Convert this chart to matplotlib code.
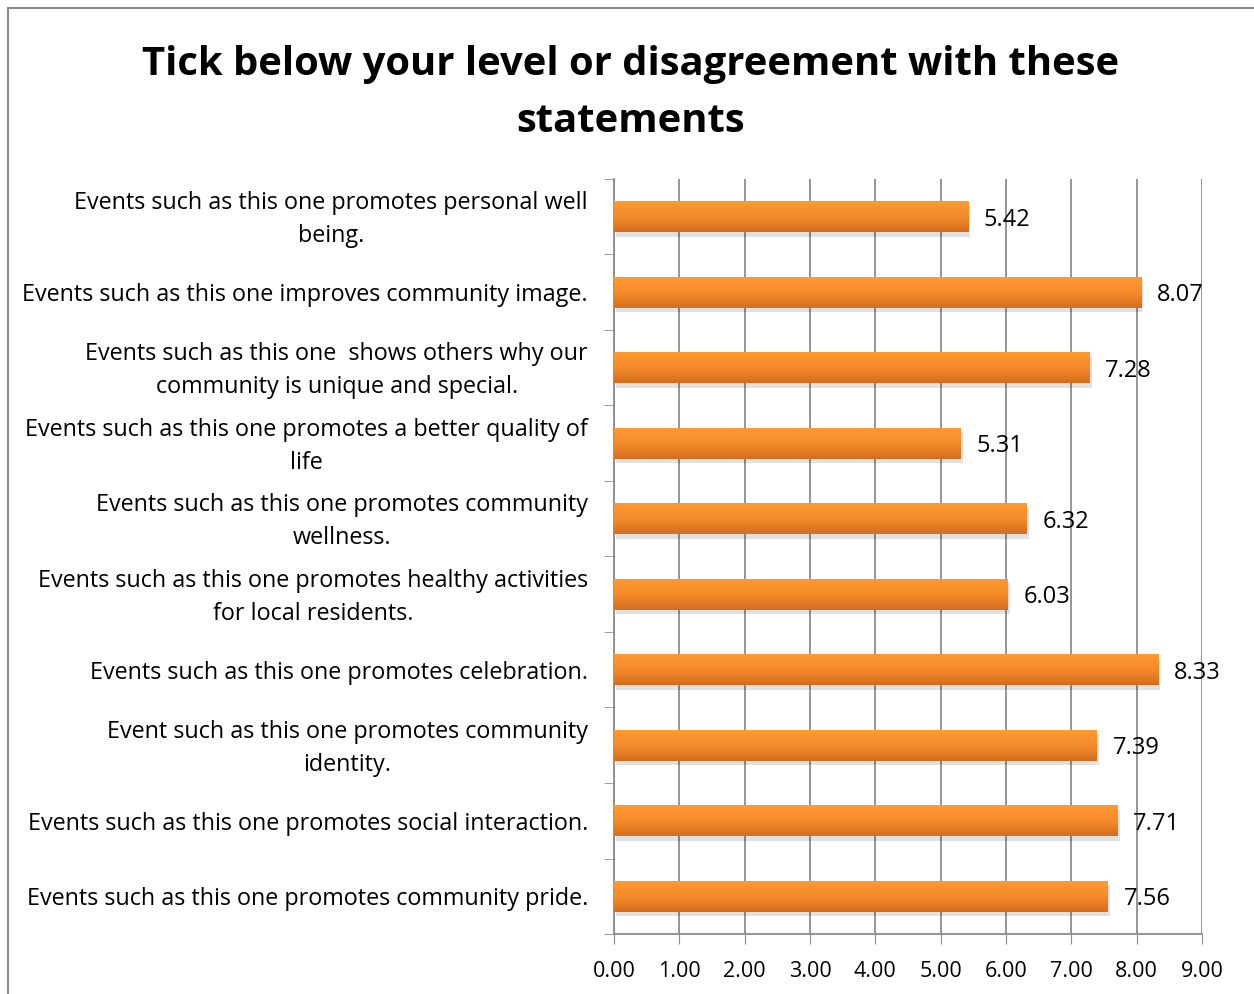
import numpy as np
import matplotlib
matplotlib.use('Agg')
import matplotlib.pyplot as plt
import matplotlib.transforms as mtransforms
from matplotlib.colors import LinearSegmentedColormap
from matplotlib.patches import Rectangle

plt.rcParams['font.family'] = ['Open Sans', 'DejaVu Sans']

# data, top to bottom
labels = [
    'Events such as this one promotes personal well\nbeing.',
    'Events such as this one improves community image.',
    'Events such as this one  shows others why our\ncommunity is unique and special.',
    'Events such as this one promotes a better quality of\nlife',
    'Events such as this one promotes community\nwellness.',
    'Events such as this one promotes healthy activities\nfor local residents.',
    'Events such as this one promotes celebration.',
    'Event such as this one promotes community\nidentity.',
    'Events such as this one promotes social interaction.',
    'Events such as this one promotes community pride.',
]
values = [5.42, 8.07, 7.28, 5.31, 6.32, 6.03, 8.33, 7.39, 7.71, 7.56]
xticks = [0, 1, 2, 3, 4, 5, 6, 7, 8, 9]
title = 'Tick below your level or disagreement with these\nstatements'

fig = plt.figure(figsize=(12.54, 9.95), dpi=100)
ax = fig.add_axes([0.4896, 0.0603, 0.4689, 0.7588])

# outer chart border (cropped on right and bottom)
fig.patches.append(Rectangle((8 / 1254, -0.05), 1.2, 1 - 9 / 995 + 0.05,
                             transform=fig.transFigure, fill=False,
                             edgecolor='#8c8c8c', linewidth=1.5))

grad = LinearSegmentedColormap.from_list('org', ['#ff9a33', '#f58a2a', '#d46e1e'])
g = np.linspace(0, 1, 64).reshape(-1, 1)
h = 0.41
ypos = np.arange(len(values))
down = mtransforms.ScaledTranslation(0, -2 / 100, fig.dpi_scale_trans)
for y, v in zip(ypos, values):
    # shadow
    ax.add_patch(Rectangle((0.03, y - h / 2 + 0.06), v, h, facecolor='#000000',
                           alpha=0.12, edgecolor='none', zorder=2))
    ax.imshow(g, cmap=grad, aspect='auto', extent=(0, v, y + h / 2, y - h / 2),
              zorder=3)
    ax.text(v + 0.24, y, '%.2f' % v, va='center', ha='left', fontsize=17,
            color='black', zorder=4, transform=ax.transData + down)

ax.set_xlim(0, 9)
ax.set_ylim(len(values) - 0.5, -0.5)
ax.set_xticks(xticks)
ax.set_xticklabels(['%.2f' % t for t in xticks], fontsize=15.5)
ax.set_yticks(ypos)
ax.set_yticklabels([])

# category labels, right aligned block, centred lines
lab_tr = ax.get_yaxis_transform() + mtransforms.ScaledTranslation(
    -26 / 100, -2 / 100, fig.dpi_scale_trans)
for y, lab in zip(ypos, labels):
    ax.text(0, y, lab, transform=lab_tr, ha='right', va='center',
            multialignment='center', fontsize=16.8, linespacing=1.5)

ax.set_yticks(np.arange(-0.5, len(values)), minor=True)
ax.tick_params(axis='y', which='major', length=0)
ax.tick_params(axis='y', which='minor', length=7, color='#8c8c8c', direction='out')
ax.tick_params(axis='x', length=7, color='#8c8c8c', direction='out', pad=11.5)
ax.grid(axis='x', color='#8c8c8c', linewidth=1.3, zorder=0)
ax.set_axisbelow(True)
for s in ['top', 'right']:
    ax.spines[s].set_visible(False)
for s in ['left', 'bottom']:
    ax.spines[s].set_color('#8c8c8c')
    ax.spines[s].set_linewidth(1.3)

fig.text(0.503, 0.955, title, ha='center', va='top', fontsize=28.8,
         fontweight='bold', linespacing=1.62)

fig.savefig('out.png', dpi=100)
